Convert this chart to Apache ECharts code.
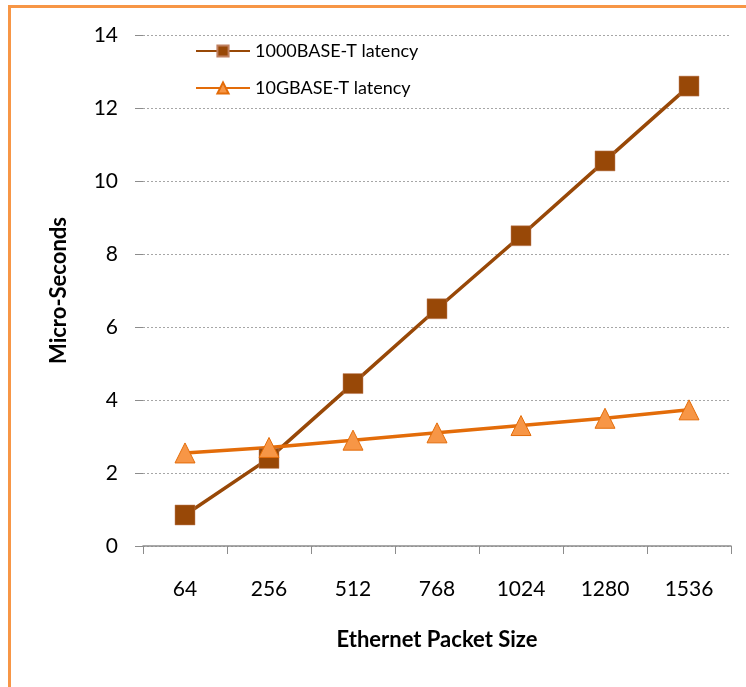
<!DOCTYPE html>
<html>
<head>
<meta charset="utf-8">
<script src="https://cdn.jsdelivr.net/npm/echarts@6/dist/echarts.min.js"></script>
<style>
html,body{margin:0;padding:0;background:#fff;}
#frame{position:absolute;left:8px;top:5px;width:738px;height:682px;border-left:3px solid #F79646;border-top:3px solid #F79646;box-sizing:border-box;}
#chart{position:absolute;left:0;top:0;width:746px;height:687px;}
</style>
</head>
<body>
<div id="frame"></div>
<div id="chart"></div>
<script>
var categories = ['64','256','512','768','1024','1280','1536'];
var gig = [0.85, 2.4, 4.45, 6.5, 8.5, 10.55, 12.6];
var tenGig = [2.55, 2.7, 2.9, 3.1, 3.3, 3.5, 3.73];
var seriesNames = ['1000BASE-T latency', '10GBASE-T latency'];

var font = 'Lato, "Open Sans", sans-serif';
var chart = echarts.init(document.getElementById('chart'));
chart.setOption({
  animation: false,
  textStyle: {fontFamily: font},
  grid: {left: 143, right: 15, top: 35, bottom: 141},
  legend: {
    orient: 'vertical', left: 190, top: 37, itemWidth: 54, itemHeight: 14, itemGap: 19,
    textStyle: {fontSize: 18, color: '#000', fontFamily: font},
    data: seriesNames
  },
  xAxis: {
    type: 'category', data: categories, boundaryGap: true,
    name: 'Ethernet Packet Size', nameLocation: 'middle', nameGap: 83,
    nameTextStyle: {fontSize: 22, fontWeight: 'bold', color: '#000', fontFamily: font},
    axisLine: {lineStyle: {color: '#8c8c8c', width: 1.5}},
    axisTick: {show: true, length: 8, alignWithLabel: false, lineStyle: {color: '#8c8c8c'}},
    axisLabel: {fontSize: 21, color: '#000', margin: 33, fontFamily: font}
  },
  yAxis: {
    type: 'value', min: 0, max: 14, interval: 2,
    name: 'Micro-Seconds', nameLocation: 'middle', nameGap: 73,
    nameTextStyle: {fontSize: 22, fontWeight: 'bold', color: '#000', fontFamily: font},
    axisLine: {show: false},
    axisTick: {show: true, length: 8, lineStyle: {color: '#8c8c8c'}},
    axisLabel: {fontSize: 21, color: '#000', margin: 25, fontFamily: font},
    splitLine: {lineStyle: {color: '#a6a6a6', type: [2, 2], width: 1}}
  },
  series: [
    {
      name: seriesNames[0], type: 'line', data: gig,
      symbol: 'rect', symbolSize: 20,
      lineStyle: {color: '#984807', width: 3.5},
      itemStyle: {color: '#984807', borderColor: '#c08060', borderWidth: 0.5}
    },
    {
      name: seriesNames[1], type: 'line', data: tenGig,
      symbol: 'triangle', symbolSize: 20,
      lineStyle: {color: '#E36C09', width: 3.5},
      itemStyle: {color: '#F79646', borderColor: '#E36C09', borderWidth: 1}
    }
  ]
});
</script>
</body>
</html>
